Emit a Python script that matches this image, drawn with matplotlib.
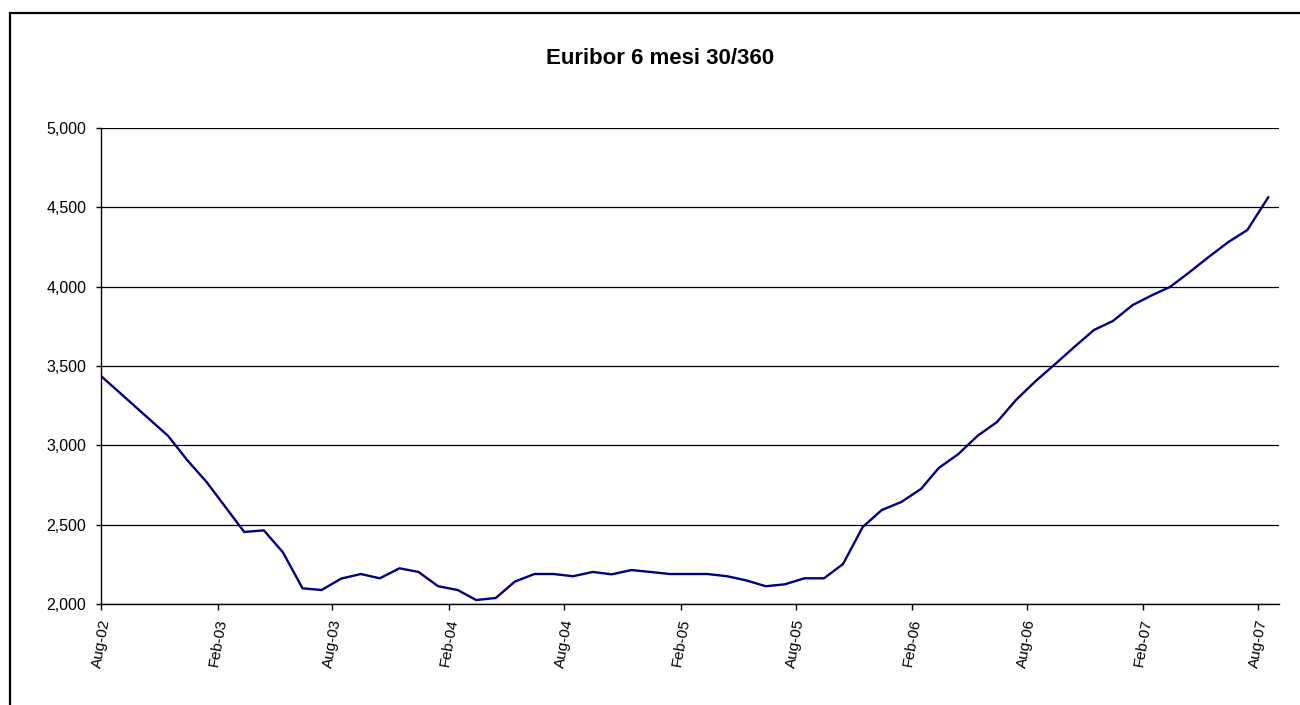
import matplotlib
matplotlib.use('Agg')
import matplotlib.pyplot as plt
from matplotlib.patches import Rectangle
from matplotlib.ticker import FuncFormatter
import pandas as pd

plt.rcParams['font.family'] = ['Liberation Sans', 'DejaVu Sans']

# Euribor 6 mesi (30/360), valori x 1000
date_fix = (['2002-08-01', '2002-11-15', '2002-12-15', '2003-01-15']
            + [d.strftime('%Y-%m-15') for d in pd.date_range('2003-03-01', '2007-07-01', freq='MS')]
            + ['2007-08-17'])
euribor = [3437, 3059, 2907, 2767,
           2454, 2464, 2326, 2099, 2088, 2160, 2189, 2162, 2225, 2202,
           2112, 2088, 2025, 2038, 2141, 2189, 2189, 2175, 2202, 2187, 2214, 2202,
           2189, 2189, 2189, 2175, 2149, 2112, 2124, 2162, 2162, 2252, 2485, 2592,
           2643, 2725, 2857, 2945, 3059, 3147, 3286, 3405, 3513, 3620, 3727, 3784,
           3884, 3947, 3998, 4092, 4187, 4281, 4357,
           4563]
tick_dates = pd.date_range('2002-08-01', '2007-08-01', freq='6MS')
tick_labels = [d.strftime('%b-%y') for d in tick_dates]
y_ticks = [2000, 2500, 3000, 3500, 4000, 4500, 5000]

x = pd.to_datetime(date_fix)

fig = plt.figure(figsize=(13, 7.05), dpi=100)
fig.patch.set_facecolor('white')

# cornice esterna del grafico
fig.patches.append(Rectangle((10 / 1300, -0.05), 1.1, 0.05 + 1 - 13 / 705,
                             transform=fig.transFigure, fill=False,
                             edgecolor='black', linewidth=1.6))

ax = fig.add_axes([101 / 1300, 101 / 705, (1279 - 101) / 1300, (604 - 128) / 705])
ax.plot(x, euribor, color='#000080', linewidth=1.7, zorder=3)

ax.set_ylim(2000, 5000)
ax.set_yticks(y_ticks)
ax.yaxis.set_major_formatter(FuncFormatter(lambda v, p: f'{v:,.0f}'))
ax.grid(axis='y', color='black', linewidth=0.9)
ax.set_axisbelow(True)

ax.set_xlim(pd.Timestamp('2002-08-01'), pd.Timestamp('2007-09-03'))
ax.set_xticks(tick_dates)
ax.set_xticklabels(tick_labels, rotation=80, ha='center', va='top', fontsize=11)

for s in ['top', 'right']:
    ax.spines[s].set_visible(False)
for s in ['left', 'bottom']:
    ax.spines[s].set_color('black')
    ax.spines[s].set_linewidth(1.0)

ax.tick_params(axis='y', direction='out', length=3.5, width=1, pad=7, labelsize=11.5)
ax.tick_params(axis='x', direction='out', length=4, width=1, pad=6)

fig.text(660 / 1300, 1 - 58 / 705, 'Euribor 6 mesi 30/360', ha='center', va='center',
         fontsize=16, fontweight='bold')

fig.savefig('out.png', dpi=100)
